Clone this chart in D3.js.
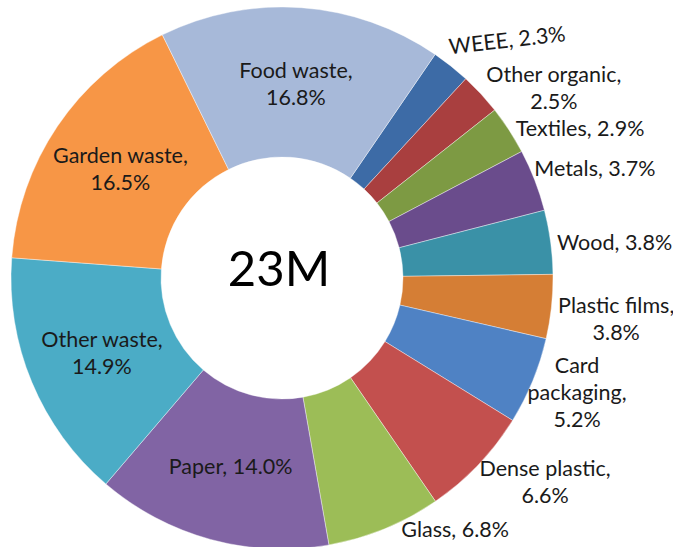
<!DOCTYPE html>
<html>
<head>
<meta charset="utf-8">
<script src="https://cdn.jsdelivr.net/npm/d3@7"></script>
<style>
  body { margin: 0; background: #fff; }
  text { font-family: Lato, "Open Sans", sans-serif; fill: #1a1a1a; }
</style>
</head>
<body>
<svg width="673" height="547"></svg>
<script>
// slices clockwise, starting with WEEE
var categories = ["WEEE", "Other organic", "Textiles", "Metals", "Wood", "Plastic films",
                  "Card packaging", "Dense plastic", "Glass", "Paper", "Other waste",
                  "Garden waste", "Food waste"]
var shares = [2.3, 2.5, 2.9, 3.7, 3.8, 3.8, 5.2, 6.6, 6.8, 14.0, 14.9, 16.5, 16.8]
var colours = ["#3d6ba6", "#a93f3f", "#7d9a43", "#6a4c8c", "#3a91a7", "#d57e35",
               "#4f82c4", "#c3504e", "#9cbd57", "#8164a4", "#4bacc6", "#f79646", "#a7b9d9"]
// how each label is broken into lines
var labelLines = [["WEEE, 2.3%"], ["Other organic,", "2.5%"], ["Textiles, 2.9%"], ["Metals, 3.7%"],
                  ["Wood, 3.8%"], ["Plastic films,", "3.8%"], ["Card", "packaging,", "5.2%"],
                  ["Dense plastic,", "6.6%"], ["Glass, 6.8%"], ["Paper, 14.0%"],
                  ["Other waste,", "14.9%"], ["Garden waste,", "16.5%"], ["Food waste,", "16.8%"]]
var centreText = "23M"

var screen = {width: 673, height: 547}
var cx = 282, cy = 278
var outerR = 271, innerR = 121
var lineH = 27

// nudges for outside labels (excel moves them around to avoid overlaps)
var nudge = [[16, -14], [19, 14], [12, 7], [-2, -6], [1, 2], [1, 9], [-7, -5],
             [15, -3], [48, -14]]

var data = categories.map(function(c, i)
{
    return {name: c, value: shares[i], colour: colours[i], lines: labelLines[i], i: i}
})

var pie = d3.pie()
    .sort(null)
    .value(function(d) {return d.value})
    .startAngle(34.4 * Math.PI / 180)
    .endAngle(34.4 * Math.PI / 180 + 2 * Math.PI)

var arc = d3.arc().innerRadius(innerR).outerRadius(outerR)

var svg = d3.select("svg")
var g = svg.append("g").attr("transform", "translate(" + cx + "," + cy + ")")

var arcs = pie(data)

g.selectAll("path")
    .data(arcs)
    .enter()
    .append("path")
    .attr("d", arc)
    .attr("fill", function(d) {return d.data.colour})
    .attr("stroke", "#ffffff")
    .attr("stroke-opacity", 0.5)
    .attr("stroke-width", 0.8)

g.append("text")
    .attr("x", -3)
    .attr("y", 8)
    .attr("text-anchor", "middle")
    .attr("font-size", 49)
    .style("fill", "#000")
    .text(centreText)

var labels = g.selectAll("g.lab")
    .data(arcs)
    .enter()
    .append("g")
    .attr("class", "lab")

labels.each(function(d)
{
    var lab = d3.select(this)
    var n = d.data.lines.length
    var t = lab.append("text")
        .attr("text-anchor", "middle")
        .attr("font-size", 21.5)
    d.data.lines.forEach(function(line, k)
    {
        t.append("tspan")
            .attr("x", 0)
            .attr("y", (k - (n - 1) / 2) * lineH)
            .attr("dy", "0.36em")
            .text(line)
    })

    var a = (d.startAngle + d.endAngle) / 2
    var x, y
    if (d.data.i >= 9)
    {
        // big slices: label in the middle of the ring
        var c = d3.arc().innerRadius(195).outerRadius(195).centroid(d)
        x = c[0]
        y = c[1]
    }
    else
    {
        var box = t.node().getBBox()
        var w = box.width, h = (n - 1) * lineH + 19
        x = (outerR + 6) * Math.sin(a) + Math.sin(a) * w / 2 + nudge[d.data.i][0]
        y = -(outerR + 6) * Math.cos(a) - Math.cos(a) * h / 2 + nudge[d.data.i][1]
    }
    var tr = "translate(" + x + "," + y + ")"
    if (d.data.name == "WEEE") tr += " rotate(-6.5)"
    lab.attr("transform", tr)
})
</script>
</body>
</html>
